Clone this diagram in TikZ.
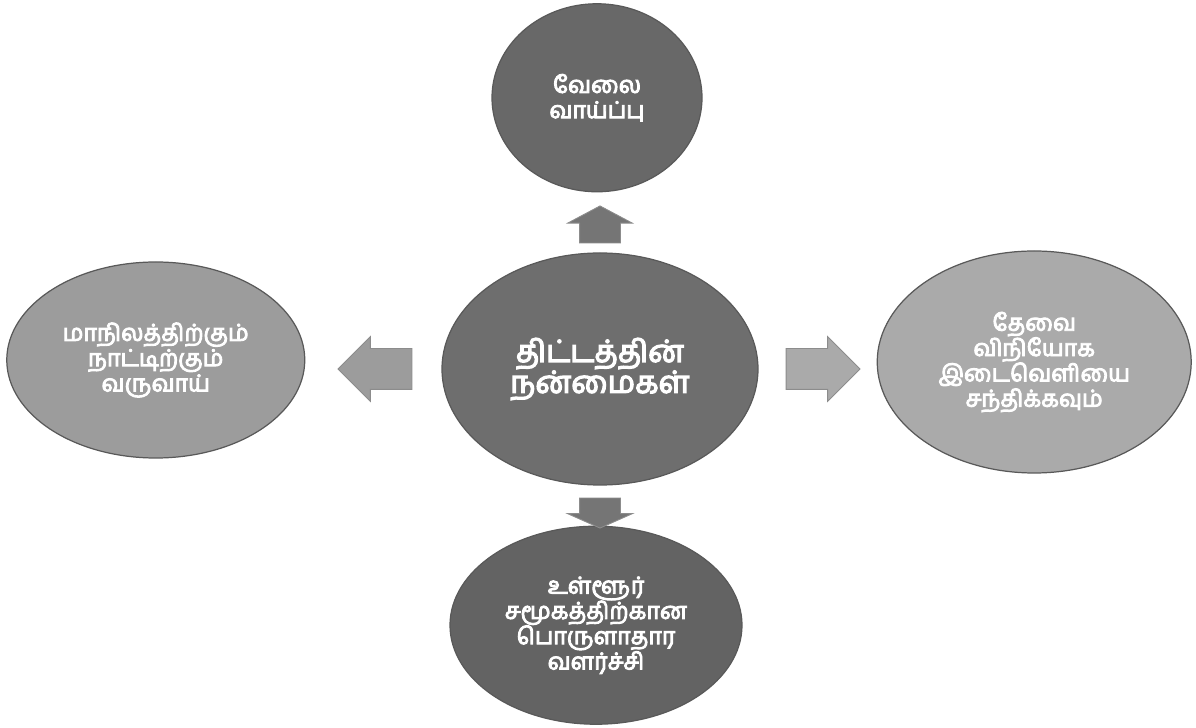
\documentclass[tikz,border=0pt]{standalone}
\usepackage{fontspec}
\newfontfamily\tamilfont[Script=Tamil, FakeBold=4]{Hind Madurai}
\usepackage{tikz}
\usetikzlibrary{
    shapes.geometric, shapes.arrows,
    positioning, calc
}
\definecolor{hubgray}{HTML}{6E6E6E}
\definecolor{topgray}{HTML}{686868}
\definecolor{botgray}{HTML}{636363}
\definecolor{leftgray}{HTML}{9C9C9C}
\definecolor{rightgray}{HTML}{AAAAAA}
\tikzset{
  bubble/.style={ellipse, draw=black!65, line width=0.7pt, inner sep=0pt,
                 align=center, text=white,
                 font=\tamilfont\fontsize{13.2}{14.4}\selectfont},
  blockarr/.style={single arrow, draw=black!45, line width=0.5pt,
                   inner xsep=0pt, inner ysep=0.4cm,
                   single arrow head extend=0.24cm, anchor=tail},
}
\begin{document}
\begin{tikzpicture}[
  hub/.style={bubble, fill=hubgray, minimum width=6.32cm, minimum height=4.64cm,
              font=\tamilfont\fontsize{17.4}{17.6}\selectfont},
  arrv/.style={blockarr, fill=hubgray!95, single arrow tip angle=124},
  arrh/.style={blockarr, single arrow tip angle=90, minimum height=1.48cm},
]

  \useasboundingbox (0,0) rectangle (23.92,-14.56);

  \node[hub] (ctr) at (12.0,-7.38) {திட்டத்தின்\\நன்மைகள்};

  \node[bubble, fill=topgray, minimum width=4.2cm, minimum height=3.76cm,
        above=1.2cm of ctr, xshift=-0.06cm] (job)
    {வேலை\\வாய்ப்பு};

  \node[bubble, fill=botgray, minimum width=5.84cm, minimum height=3.96cm,
        below=0.8cm of ctr, xshift=-0.08cm] (grow)
    {உள்ளூர்\\சமூகத்திற்கான\\பொருளாதார\\வளர்ச்சி};

  \node[bubble, fill=leftgray, minimum width=5.96cm, minimum height=3.92cm,
        left=2.72cm of ctr, yshift=0.18cm] (rev)
    {மாநிலத்திற்கும்\\நாட்டிற்கும்\\வருவாய்};

  \node[bubble, fill=rightgray, minimum width=6.28cm, minimum height=4.44cm,
        right=2.36cm of ctr, yshift=0.14cm] (gap)
    {தேவை\\விநியோக\\இடைவெளியை\\சந்திக்கவும்};

  % block arrows between the hub and the bubbles
  \node[arrv, rotate=90, minimum height=0.74cm] (aup)
    at ([yshift=0.18cm]ctr.north) {};
  \node[arrv, rotate=-90, minimum height=0.6cm, single arrow tip angle=132] (adown)
    at ([yshift=-0.24cm]ctr.south) {};
  \node[arrh, fill=leftgray, rotate=180] (aleft)
    at ([xshift=-0.58cm]ctr.west) {};
  \node[arrh, fill=rightgray] (aright)
    at ([xshift=0.54cm]ctr.east) {};

\end{tikzpicture}
\end{document}
